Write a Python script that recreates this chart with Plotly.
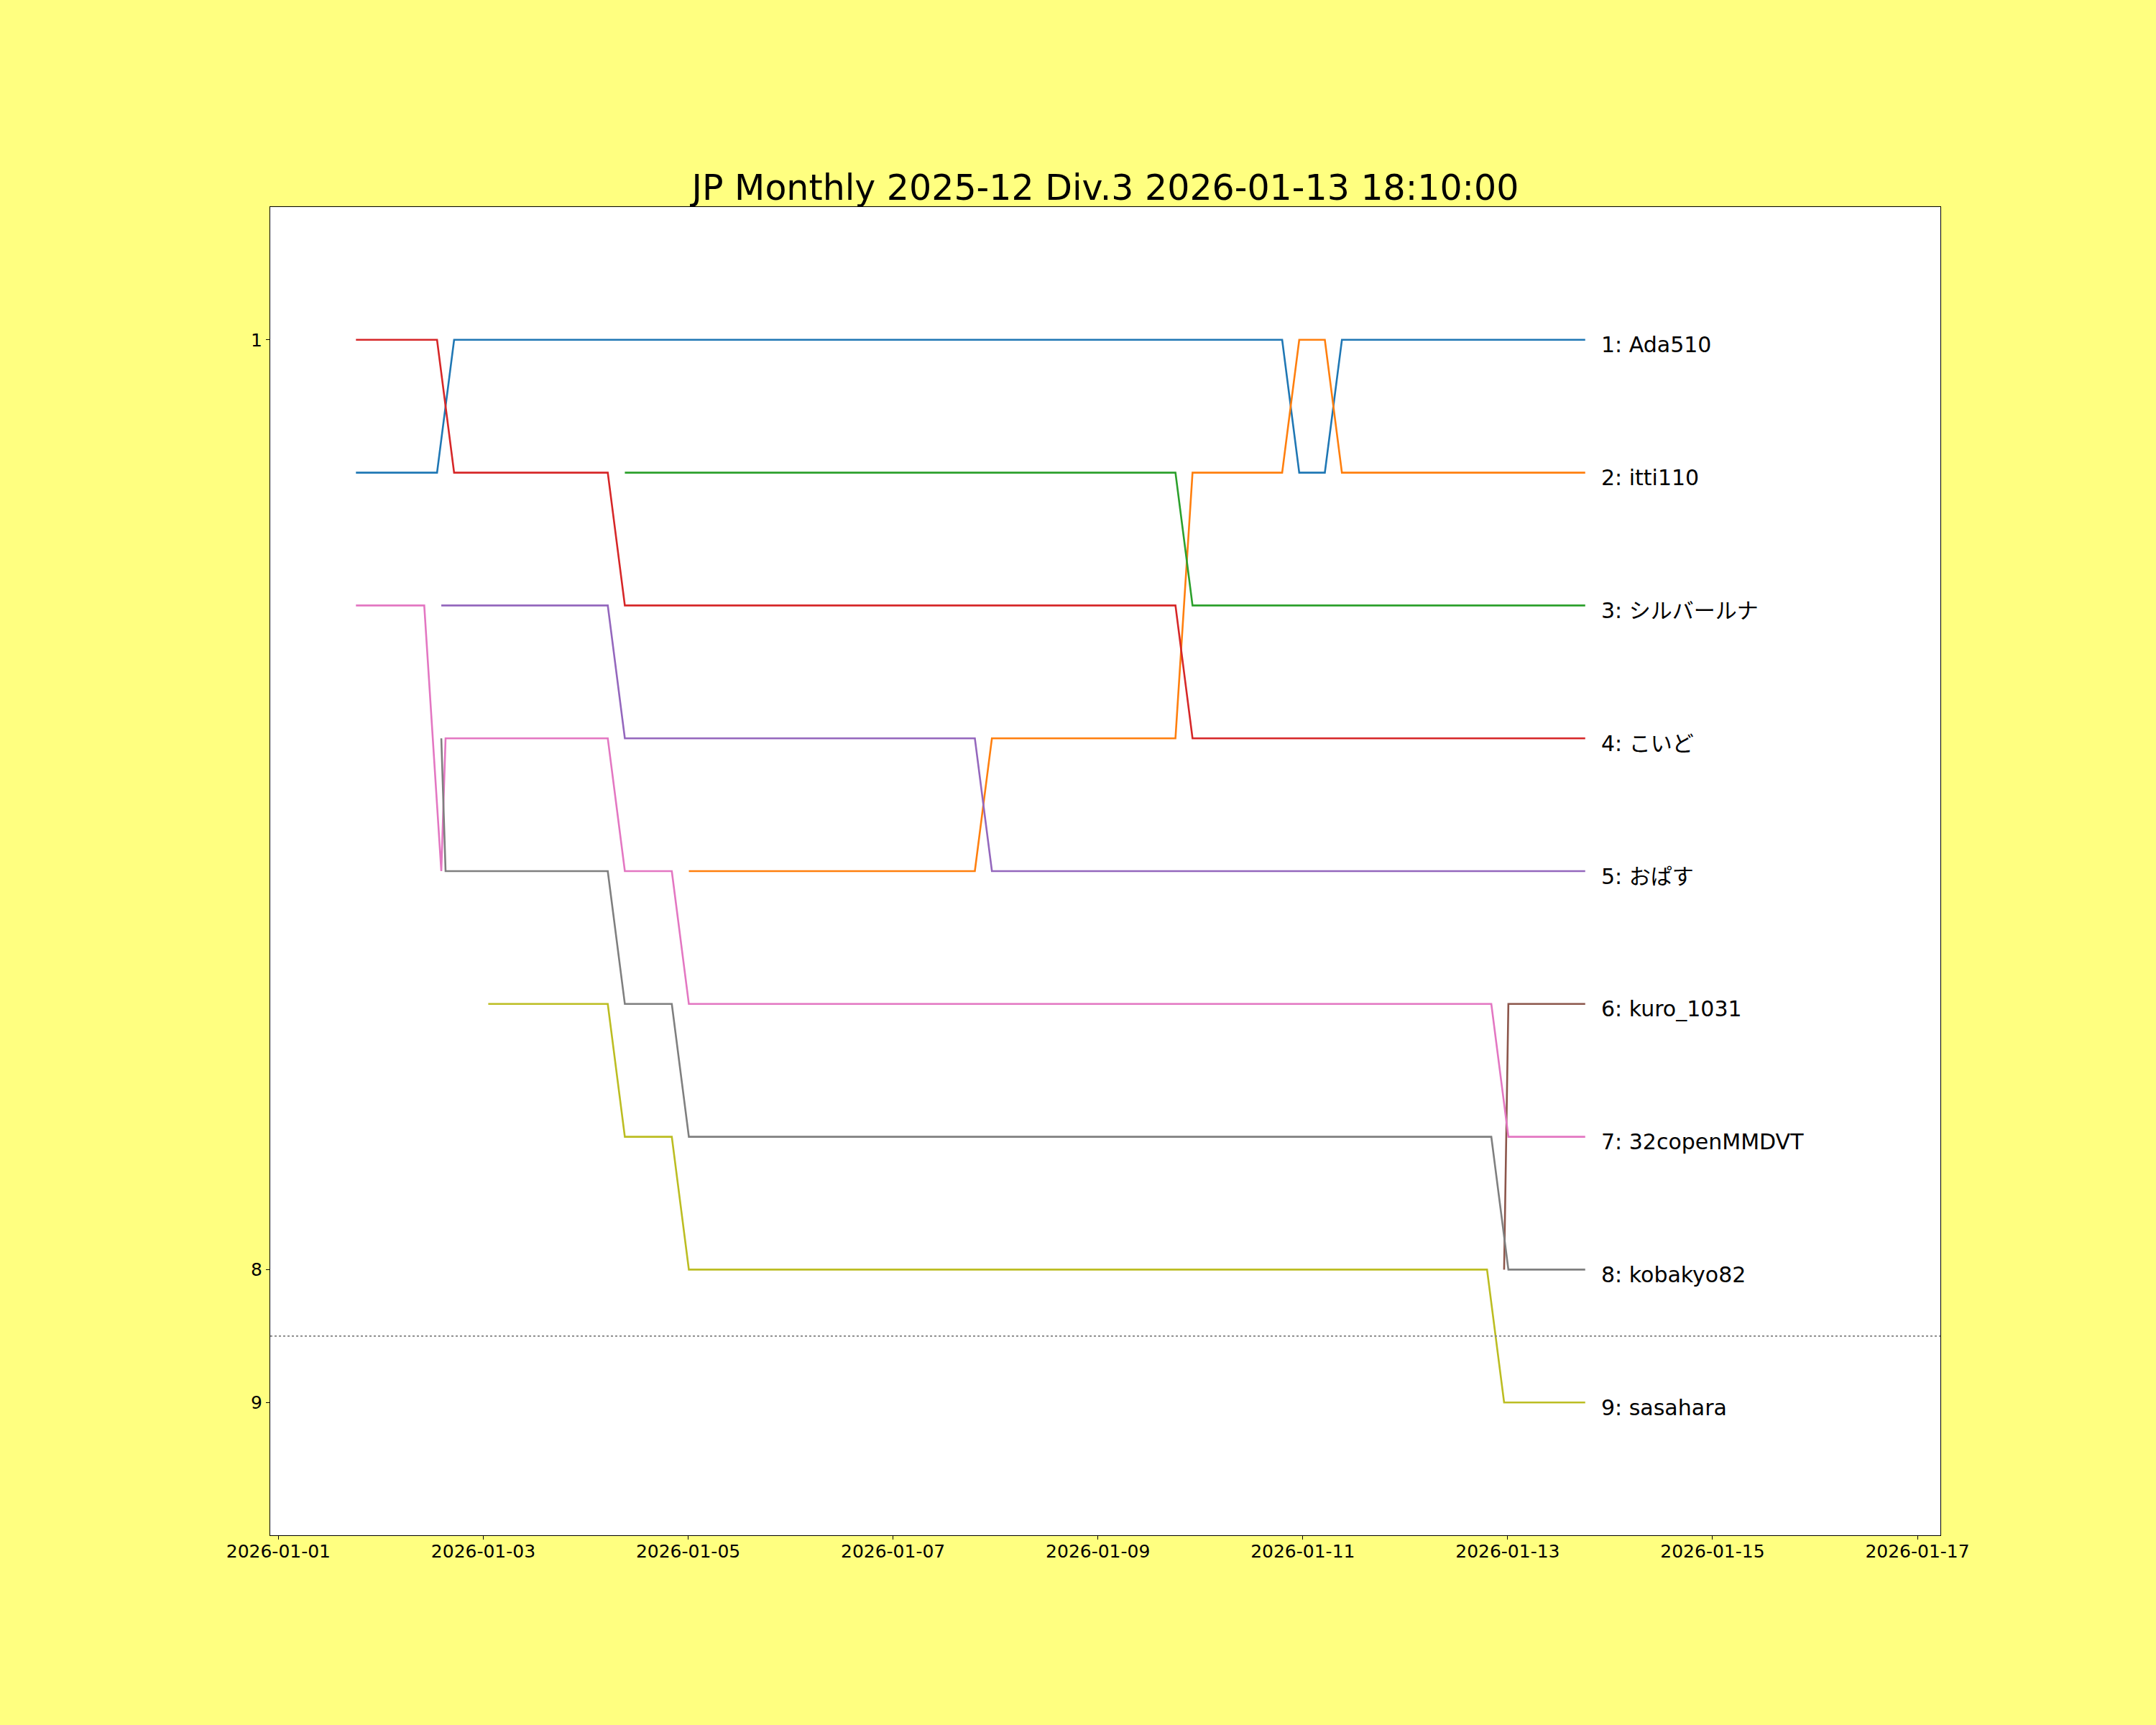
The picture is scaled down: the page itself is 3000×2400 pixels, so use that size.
import plotly.graph_objects as go

# ranking snapshots per player (time, rank)
title_text = 'JP Monthly 2025-12 Div.3 2026-01-13 18:10:00'

ada510_t = ['2026-01-01 18:10', '2026-01-02 13:10', '2026-01-02 17:10', '2026-01-10 19:10',
            '2026-01-10 23:10', '2026-01-11 05:10', '2026-01-11 09:10', '2026-01-13 18:10']
ada510_r = [2, 2, 1, 1, 2, 2, 1, 1]

itti110_t = ['2026-01-05 00:10', '2026-01-07 19:10', '2026-01-07 23:10', '2026-01-09 18:10',
             '2026-01-09 22:10', '2026-01-10 19:10', '2026-01-10 23:10', '2026-01-11 05:10',
             '2026-01-11 09:10', '2026-01-13 18:10']
itti110_r = [5, 5, 4, 4, 2, 2, 1, 1, 2, 2]

silver_t = ['2026-01-04 09:10', '2026-01-09 18:10', '2026-01-09 22:10', '2026-01-13 18:10']
silver_r = [2, 2, 3, 3]

koido_t = ['2026-01-01 18:10', '2026-01-02 13:10', '2026-01-02 17:10', '2026-01-04 05:10',
           '2026-01-04 09:10', '2026-01-09 18:10', '2026-01-09 22:10', '2026-01-13 18:10']
koido_r = [1, 1, 2, 2, 3, 3, 4, 4]

opasu_t = ['2026-01-02 14:10', '2026-01-04 05:10', '2026-01-04 09:10', '2026-01-07 19:10',
           '2026-01-07 23:10', '2026-01-13 18:10']
opasu_r = [3, 3, 4, 4, 5, 5]

kuro_t = ['2026-01-12 23:10', '2026-01-13 00:10', '2026-01-13 18:10']
kuro_r = [8, 6, 6]

copen_t = ['2026-01-01 18:10', '2026-01-02 10:10', '2026-01-02 14:10', '2026-01-02 15:10',
           '2026-01-04 05:10', '2026-01-04 09:10', '2026-01-04 20:10', '2026-01-05 00:10',
           '2026-01-12 20:10', '2026-01-13 00:10', '2026-01-13 18:10']
copen_r = [3, 3, 5, 4, 4, 5, 5, 6, 6, 7, 7]

kobakyo_t = ['2026-01-02 14:10', '2026-01-02 15:10', '2026-01-04 05:10', '2026-01-04 09:10',
             '2026-01-04 20:10', '2026-01-05 00:10', '2026-01-12 20:10', '2026-01-13 00:10',
             '2026-01-13 18:10']
kobakyo_r = [4, 5, 5, 6, 6, 7, 7, 8, 8]

sasahara_t = ['2026-01-03 01:10', '2026-01-04 05:10', '2026-01-04 09:10', '2026-01-04 20:10',
              '2026-01-05 00:10', '2026-01-12 19:10', '2026-01-12 23:10', '2026-01-13 18:10']
sasahara_r = [6, 6, 7, 7, 8, 8, 9, 9]

players = [
    ('Ada510', ada510_t, ada510_r, '#1f77b4'),
    ('itti110', itti110_t, itti110_r, '#ff7f0e'),
    ('シルバールナ', silver_t, silver_r, '#2ca02c'),
    ('こいど', koido_t, koido_r, '#d62728'),
    ('おぱす', opasu_t, opasu_r, '#9467bd'),
    ('kuro_1031', kuro_t, kuro_r, '#8c564b'),
    ('32copenMMDVT', copen_t, copen_r, '#e377c2'),
    ('kobakyo82', kobakyo_t, kobakyo_r, '#7f7f7f'),
    ('sasahara', sasahara_t, sasahara_r, '#bcbd22'),
]

y_ticks = [1, 8, 9]
border_rank = 8.5

font_main = 'DejaVu Sans, Noto Sans CJK JP, sans-serif'
bg = '#ffff80'

fig = go.Figure()
for name, t, r, color in players:
    fig.add_trace(go.Scatter(x=t, y=r, mode='lines', name=name,
                             line=dict(color=color, width=2.6), hoverinfo='skip'))
    fig.add_annotation(x=t[-1], y=r[-1], text=f'{r[-1]}: {name}', showarrow=False,
                       xanchor='left', yanchor='middle', xshift=20, yshift=-7,
                       font=dict(family=font_main, size=30, color='black'))

fig.add_hline(y=border_rank, line=dict(color='gray', width=1.8, dash='dot'))

fig.update_layout(
    width=3000, height=2400,
    margin=dict(l=376, r=300, t=288, b=264),
    paper_bgcolor=bg, plot_bgcolor='white',
    showlegend=False,
    font=dict(family=font_main, color='black'),
    title=dict(text=title_text, x=0.5, xref='paper', xanchor='center',
               y=1, yref='paper', yanchor='bottom', pad=dict(b=10),
               font=dict(family=font_main, size=49, color='black')),
)
fig.update_xaxes(type='date', range=['2025-12-31 22:05', '2026-01-17 05:23'],
                 tick0='2026-01-01', dtick=2 * 86400000, tickformat='%Y-%m-%d',
                 ticks='outside', ticklen=5, tickwidth=1.1, tickcolor='black',
                 tickfont=dict(size=25, family=font_main), ticklabelstandoff=-5,
                 showgrid=False, zeroline=False,
                 showline=True, mirror=True, linecolor='black', linewidth=1.3)
fig.update_yaxes(range=[10, 0], tickvals=y_ticks,
                 ticks='outside', ticklen=5, tickwidth=1.1, tickcolor='black',
                 tickfont=dict(size=25, family=font_main),
                 showgrid=False, zeroline=False,
                 showline=True, mirror=True, linecolor='black', linewidth=1.3)

fig.write_html('out.html', config={'displayModeBar': False},
               post_script="document.body.style.margin='0';"
                           "document.body.style.background='" + bg + "';")
